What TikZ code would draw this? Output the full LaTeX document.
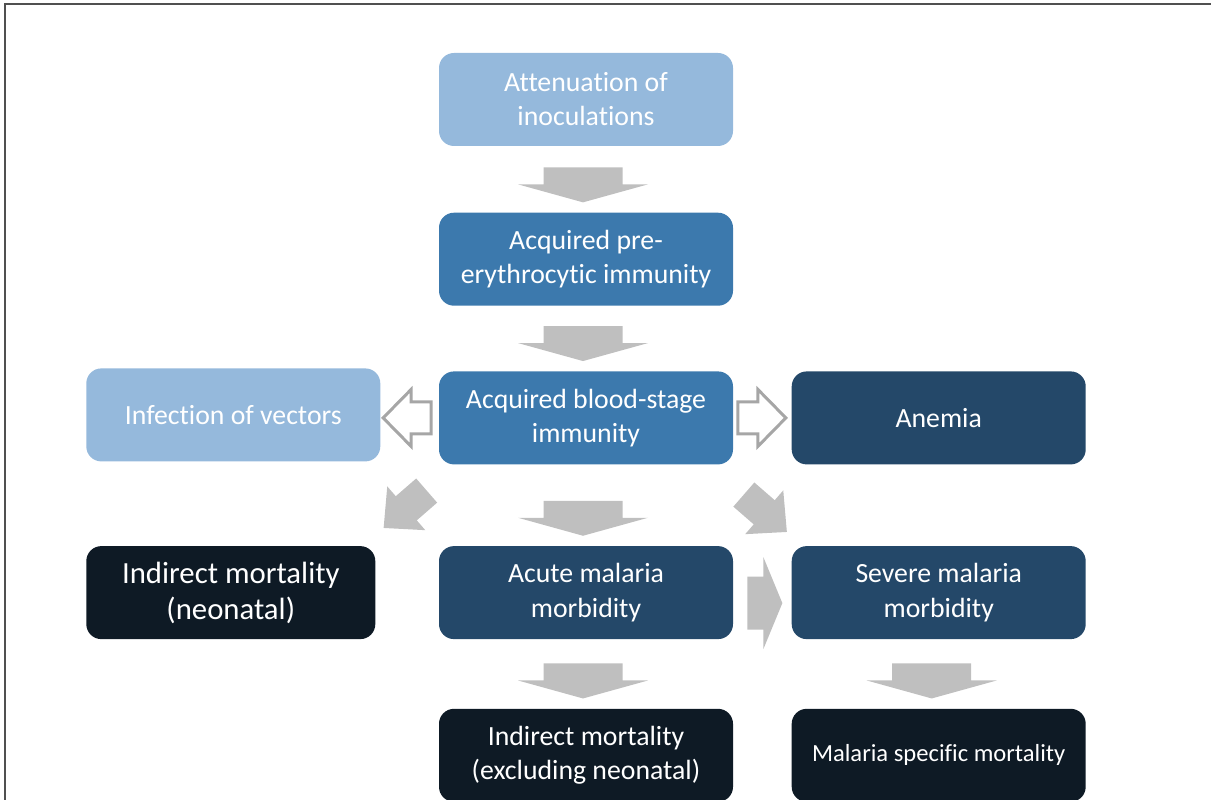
\documentclass[tikz,border=0pt]{standalone}
\usepackage{fontspec}
\setmainfont{Carlito}[Ligatures=CommonOff]
\usetikzlibrary{positioning,calc}
\definecolor{BlueLight}{HTML}{95B9DC}
\definecolor{BlueMid}{HTML}{3C79AD}
\definecolor{BlueNavy}{HTML}{244869}
\definecolor{NavyDark}{HTML}{0E1A25}
\definecolor{ArrowGray}{HTML}{BFBFBF}
\definecolor{OutlineGray}{HTML}{A6A6A6}
\definecolor{FrameGray}{HTML}{505050}

% block arrow: style, centre, angle, half length, shaft half width, head half width, head length
\newcommand{\fatarrow}[7]{%
  \begin{scope}[shift={#2},rotate=#3]
    \path[#1] (-#4,-#5) -- ({#4-#7},-#5) -- ({#4-#7},-#6) -- (#4,0)
      -- ({#4-#7},#6) -- ({#4-#7},#5) -- (-#4,#5) -- cycle;
  \end{scope}}

\begin{document}
\begin{tikzpicture}[
  box/.style={rounded corners=0.3cm, minimum width=5.88cm, minimum height=1.86cm,
    align=center, text=white, inner sep=2pt, font=\fontsize{15.8}{19.4}\selectfont},
  solid/.style={fill=ArrowGray},
  hollow/.style={draw=OutlineGray, line width=1.7pt, fill=white, line join=miter}]
  \useasboundingbox (0,0) rectangle (24.22,15.98);
  \clip (0,0) rectangle (24.22,15.98);
  \draw[FrameGray, line width=0.9pt] (24.4,15.9) -- (0.1,15.9) -- (0.1,-0.3);

  \node[box, fill=BlueLight] (att) at (11.72,13.99) {Attenuation of\\inoculations};
  \node[box, fill=BlueMid, below=1.32cm of att] (pre) {Acquired pre-\\erythrocytic immunity};
  \node[box, fill=BlueMid, below=1.30cm of pre] (blood) {Acquired blood-stage\\immunity};
  \node[box, fill=BlueLight, left=1.16cm of blood, yshift=0.06cm] (vec) {Infection of vectors};
  \node[box, fill=BlueNavy, right=1.16cm of blood] (anemia) {Anemia};
  \node[box, fill=BlueNavy, below=1.62cm of blood] (acute) {Acute malaria\\morbidity};
  \node[box, fill=NavyDark, minimum width=5.78cm, left=1.26cm of acute,
    font=\fontsize{17.5}{20.5}\selectfont] (neo) {Indirect mortality\\(neonatal)};
  \node[box, fill=BlueNavy, right=1.16cm of acute] (severe) {Severe malaria\\morbidity};
  \node[box, fill=NavyDark, below=1.38cm of acute] (indirect) {Indirect mortality\\(excluding neonatal)};
  \node[box, fill=NavyDark, right=1.16cm of indirect,
    font=\fontsize{14}{17}\selectfont] (specific) {Malaria specific mortality};

  % down arrows, tip just above the lower box
  \foreach \to/\dx in {pre/-0.06,blood/-0.06,acute/-0.06,indirect/-0.06,specific/-0.14}{
    \fatarrow{solid}{($(\to.north)+(\dx,0.55)$)}{-90}{0.35}{0.79}{1.3}{0.36}
  }
  % diagonal arrows
  \fatarrow{solid}{($(blood.south west)+(-0.67,-0.89)$)}{221}{0.57}{0.32}{0.58}{0.6}
  \fatarrow{solid}{($(blood.south east)+(0.64,-0.97)$)}{-41}{0.57}{0.32}{0.58}{0.6}
  % acute to severe
  \fatarrow{solid}{($(acute.east)+(0.63,-0.21)$)}{0}{0.35}{0.53}{0.92}{0.38}
  % hollow arrows
  \fatarrow{hollow}{($(blood.west)+(-0.63,0)$)}{180}{0.48}{0.32}{0.57}{0.56}
  \fatarrow{hollow}{($(blood.east)+(0.57,0)$)}{0}{0.48}{0.32}{0.57}{0.56}
\end{tikzpicture}
\end{document}
